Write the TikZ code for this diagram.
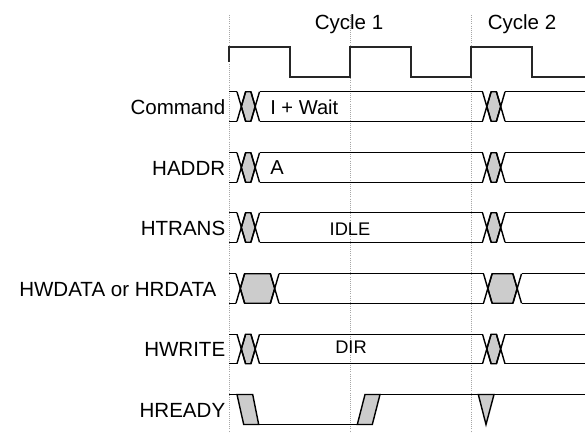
\documentclass[tikz,border=0pt]{standalone}
\usepackage{fontspec}
\setmainfont{Liberation Sans}
\usepackage{xcolor}
\usepackage{tikz}

\begin{document}
\begin{tikzpicture}[
  x=0.025cm, y=-0.025cm,
  sig/.style={line width=1pt, black, line join=miter},
  busfill/.style={sig, fill=gray!40},
  clk/.style={line width=1.2pt, black!85},
  edge/.style={gray!70, line width=0.5pt, dash pattern=on 0.6pt off 0.9pt},
  siglabel/.style={font=\fontsize{14.6}{16}\selectfont, anchor=base east, inner sep=0pt},
  value/.style={font=\fontsize{14.3}{16}\selectfont, anchor=base west, inner sep=0pt},
  state/.style={font=\fontsize{13}{15}\selectfont, anchor=base, inner sep=0pt},
]
  \useasboundingbox (0,0) rectangle (585,433);

  % Clock edges
  \foreach \x in {229, 350, 471} {
    \draw[edge] (\x,15) -- (\x,433);
  }
  \node[font=\fontsize{14.6}{16}\selectfont, anchor=base, inner sep=0pt] (cyc1) at (349,29.5) {Cycle 1};
  \node[font=\fontsize{14.6}{16}\selectfont, anchor=base, inner sep=0pt] (cyc2) at (522,29.5) {Cycle 2};

  % Clock
  \draw[clk] (229,62) -- (229,47) -- (290,47) -- (290,77) -- (350,77) -- (350,47)
    -- (411,47) -- (411,77) -- (471,77) -- (471,47) -- (532,47) -- (532,77) -- (585,77);

  % Bus signals: row centre / first crossing / second crossing
  \foreach \y/\a/\b/\c/\d in {106.5/237/259.5/482.5/505, 167.5/237/259.5/482.5/505,
                              227.5/237/259.5/482.5/505, 288.5/236/279/483.5/521.5,
                              349/237/259.5/482.5/505} {
    \foreach \p/\q in {\a/\b, \c/\d} {
      \draw[busfill] (\p+4.3,\y) -- (\p+8.6,\y-14.75) -- (\q-8.6,\y-14.75) -- (\q-4.3,\y)
        -- (\q-8.6,\y+14.75) -- (\p+8.6,\y+14.75) -- cycle;
      \draw[sig] (\p,\y-14.75) -- (\p+8.6,\y+14.75) (\p,\y+14.75) -- (\p+8.6,\y-14.75)
        (\q-8.6,\y-14.75) -- (\q,\y+14.75) (\q-8.6,\y+14.75) -- (\q,\y-14.75);
    }
    \draw[sig] (229,\y-14.75) -- (\a,\y-14.75) (\b,\y-14.75) -- (\c,\y-14.75) (\d,\y-14.75) -- (585,\y-14.75);
    \draw[sig] (229,\y+14.75) -- (\a,\y+14.75) (\b,\y+14.75) -- (\c,\y+14.75) (\d,\y+14.75) -- (585,\y+14.75);
  }

  % HREADY
  \draw[sig] (229,394.5) -- (237,394.5);
  \draw[busfill] (237,394.5) -- (252.7,394.5) -- (258.7,424.5) -- (243.7,424.5) -- cycle;
  \draw[sig] (258.7,424.5) -- (357.3,424.5);
  \draw[busfill] (357.3,424.5) -- (372.3,424.5) -- (380,394.5) -- (365,394.5) -- cycle;
  \draw[sig] (380,394.5) -- (585,394.5);
  \draw[busfill] (478.3,394.5) -- (494,394.5) -- (486,424.5) -- cycle;

  % Signal names
  \node[siglabel] (cmd)    at (225.5,114)   {Command};
  \node[siglabel] (haddr)  at (225.5,175)   {HADDR};
  \node[siglabel] (htrans) at (225.5,235)   {HTRANS};
  \node[siglabel] (hdata)  at (216.5,296)   {HWDATA or HRDATA};
  \node[siglabel] (hwrite) at (225.5,356.5) {HWRITE};
  \node[siglabel] (hready) at (225.5,417)   {HREADY};

  % Values
  \node[value] (wait) at (270,114)   {I + Wait};
  \node[value] (addr) at (270,174.5) {A};
  \node[state] (idle) at (350,235)   {IDLE};
  \node[state] (dir)  at (351,353.3) {DIR};
\end{tikzpicture}
\end{document}
